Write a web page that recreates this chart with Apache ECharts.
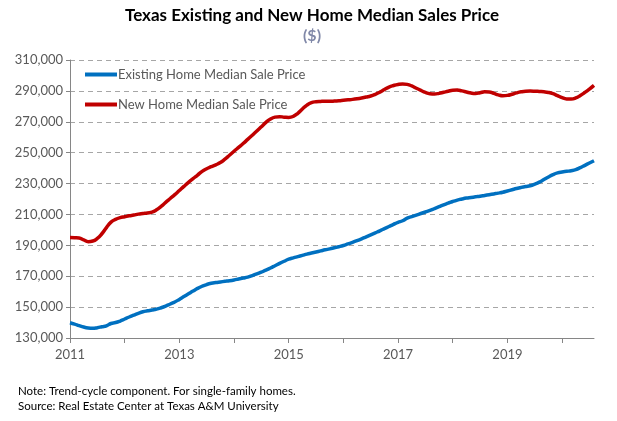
<!DOCTYPE html>
<html>
<head>
<meta charset="utf-8">
<script src="https://cdn.jsdelivr.net/npm/echarts@6/dist/echarts.min.js"></script>
<style>
html,body{margin:0;padding:0;background:#fff;}
#c{width:617px;height:421px;}
</style>
</head>
<body>
<div id="c"></div>
<script>
// Monthly data, Jan 2011 .. Aug 2020
var startYear = 2011;
var existingHome = [
139900,139000,138000,137100,136500,136300,136700,137300,137900,139400,140000,141000,
142300,143600,144800,146000,147000,147600,148100,148700,149600,150700,152000,153300,
155000,156800,158600,160400,162100,163500,164600,165400,165900,166300,166700,167100,
167600,168200,168800,169400,170400,171500,172700,173900,175300,176800,178300,179700,
181000,181900,182700,183500,184300,185000,185700,186400,187100,187700,188400,189100,
189900,190900,191900,193000,194200,195500,196800,198100,199400,200800,202200,203600,
204900,205900,207600,208600,209600,210600,211600,212600,213800,215000,216200,217300,
218400,219300,220000,220600,221000,221400,221800,222300,222800,223300,223800,224400,
225200,226000,226800,227500,228100,228600,229600,230900,232600,234300,235800,236900,
237500,237900,238300,239000,240300,241800,243300,244800
];
var newHome = [
195000,194900,194700,193500,192400,192800,194500,197500,201500,205000,206800,207900,
208500,209100,209600,210200,210600,211000,211500,213000,215200,217800,220300,222800,
225500,228200,230800,233200,235500,237900,239600,240900,242100,243600,245800,248300,
250900,253400,255900,258600,261300,264000,266800,269600,271800,273000,273300,273000,
272800,273500,275500,278300,280800,282400,283000,283200,283300,283300,283400,283600,
283900,284200,284500,284900,285400,286000,286700,287800,289200,290900,292500,293500,
294200,294500,294200,293200,291700,290300,289000,288200,288000,288400,289100,289800,
290400,290500,290000,289300,288600,288300,288800,289400,289300,288400,287400,286900,
287100,287800,288700,289400,289800,289900,289800,289600,289400,289000,288200,286900,
285600,284800,284700,285400,287000,289000,291200,293600
];
var seriesNames = ['Existing Home Median Sale Price','New Home Median Sale Price'];
var yMin = 130000, yMax = 310000, yStep = 20000;

var months = [];
for (var i = 0; i < existingHome.length; i++) {
  var y = startYear + Math.floor(i / 12);
  var m = (i % 12) + 1;
  months.push(y + '-' + (m < 10 ? '0' + m : m));
}

var FONT = 'Lato, "Open Sans", sans-serif';
var chart = echarts.init(document.getElementById('c'));
chart.setOption({
  animation: false,
  backgroundColor: '#ffffff',
  title: [{
    text: 'Texas Existing and New Home Median Sales Price',
    left: 312, top: 7, textAlign: 'center', padding: 0,
    textStyle: {fontFamily: FONT, fontSize: 17, fontWeight: 'bold', color: '#000000'}
  },{
    text: '($)',
    left: 312, top: 28, textAlign: 'center', padding: 0,
    textStyle: {fontFamily: FONT, fontSize: 16, fontWeight: 'bold', color: '#8088a8'}
  },{
    text: 'Note: Trend-cycle component. For single-family homes.\nSource: Real Estate Center at Texas A&M University',
    left: 18, top: 384, padding: 0,
    textStyle: {fontFamily: FONT, fontSize: 11.5, fontWeight: 'normal', color: '#000000', lineHeight: 15}
  }],
  legend: {
    orient: 'vertical', left: 80, top: 63, itemWidth: 32, itemHeight: 4, itemGap: 17,
    icon: 'rect',
    textStyle: {fontFamily: FONT, fontSize: 13, color: '#595959', padding: [0,0,0,-4]},
    data: seriesNames
  },
  grid: {left: 70, right: 23, top: 60, bottom: 83, containLabel: false},
  xAxis: {
    type: 'category', data: months, boundaryGap: false,
    axisLine: {lineStyle: {color: '#868686', width: 1}},
    axisTick: {show: true, length: 5, interval: function (i) { return i % 12 === 0; }, lineStyle: {color: '#868686'}},
    axisLabel: {
      interval: function (i) { return i % 24 === 0; },
      formatter: function (v) { return v.slice(0, 4); },
      fontFamily: FONT, fontSize: 13, color: '#595959', margin: 10
    },
    splitLine: {show: false}
  },
  yAxis: {
    type: 'value', min: yMin, max: yMax, interval: yStep,
    axisLine: {show: true, lineStyle: {color: '#868686', width: 1}},
    axisTick: {show: true, length: 4, lineStyle: {color: '#868686'}},
    axisLabel: {
      formatter: function (v) { return v.toLocaleString('en-US'); },
      fontFamily: FONT, fontSize: 13, color: '#595959', margin: 7
    },
    splitLine: {show: true, lineStyle: {color: '#a6a6a6', type: [5, 4], width: 1}}
  },
  series: [{
    name: seriesNames[0], type: 'line', data: existingHome, symbol: 'none', smooth: true,
    lineStyle: {color: '#0070c0', width: 3.5}, itemStyle: {color: '#0070c0'}
  },{
    name: seriesNames[1], type: 'line', data: newHome, symbol: 'none', smooth: true,
    lineStyle: {color: '#c00000', width: 3.5}, itemStyle: {color: '#c00000'}
  }]
});
</script>
</body>
</html>
